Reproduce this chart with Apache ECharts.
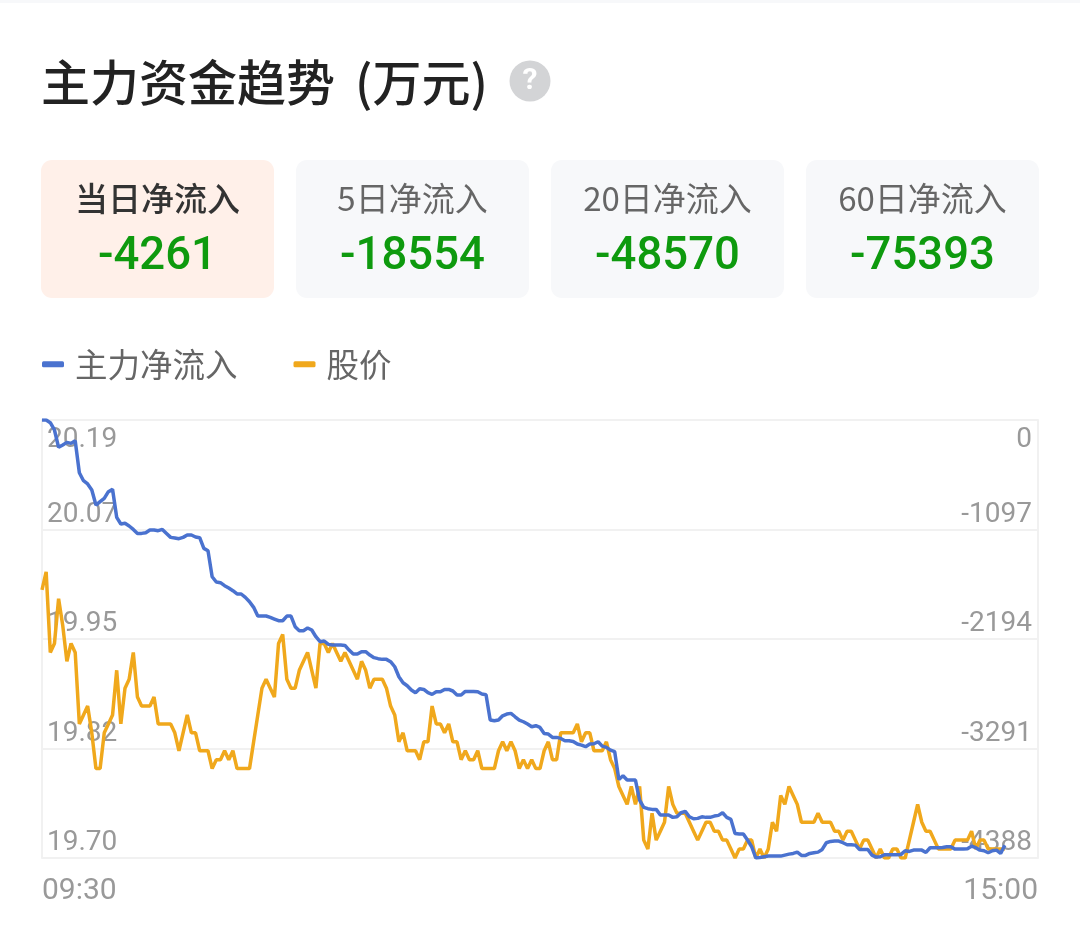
<!DOCTYPE html>
<html><head><meta charset="utf-8">
<style>html,body{margin:0;padding:0;background:#fff}#c{width:1080px;height:927px}</style>
<script src="https://cdn.jsdelivr.net/npm/echarts@6/dist/echarts.min.js"></script>
</head><body><div id="c"></div>
<script>
const titleMain = '主力资金趋势';
const titleUnit = '(万元)';
const cardLabels = ['当日净流入','5日净流入','20日净流入','60日净流入'];
const cardValues = ['-4261','-18554','-48570','-75393'];
const seriesNames = ['主力净流入','股价'];
const priceTicks = [19.70,19.8225,19.945,20.0675,20.19];
const priceTickLabels = ['19.70','19.82','19.95','20.07','20.19'];
const inflowTicks = [-4388,-3291,-2194,-1097,0];
const inflowTickLabels = ['-4388','-3291','-2194','-1097','0'];
const price = [
20.00,20.02,19.93,19.94,19.99,19.96,19.92,19.94,19.93,19.85,19.86,19.87,19.84,19.80,19.80,19.84,19.85,19.86,19.91,19.85,
19.89,19.90,19.93,19.88,19.87,19.87,19.87,19.88,19.85,19.85,19.85,19.85,19.84,19.82,19.84,19.86,19.84,19.84,19.82,19.82,
19.82,19.80,19.81,19.81,19.82,19.81,19.82,19.80,19.80,19.80,19.80,19.83,19.86,19.89,19.90,19.89,19.88,19.94,19.95,19.90,
19.89,19.89,19.91,19.92,19.93,19.91,19.89,19.94,19.94,19.93,19.94,19.93,19.92,19.93,19.92,19.91,19.90,19.92,19.91,19.89,
19.90,19.90,19.90,19.89,19.87,19.86,19.83,19.84,19.82,19.82,19.82,19.81,19.83,19.83,19.87,19.85,19.85,19.84,19.85,19.83,
19.83,19.81,19.82,19.81,19.81,19.82,19.80,19.80,19.80,19.80,19.82,19.83,19.82,19.83,19.82,19.80,19.81,19.80,19.81,19.80,
19.80,19.82,19.83,19.81,19.81,19.84,19.84,19.84,19.84,19.85,19.83,19.84,19.84,19.82,19.82,19.82,19.83,19.81,19.80,19.78,
19.77,19.76,19.78,19.76,19.78,19.72,19.71,19.75,19.72,19.73,19.74,19.78,19.76,19.75,19.75,19.75,19.74,19.73,19.72,19.73,
19.74,19.74,19.73,19.73,19.72,19.72,19.71,19.70,19.71,19.71,19.72,19.72,19.70,19.71,19.70,19.71,19.74,19.73,19.77,19.76,
19.78,19.77,19.76,19.74,19.74,19.74,19.74,19.75,19.74,19.74,19.74,19.73,19.73,19.72,19.73,19.73,19.72,19.71,19.72,19.72,
19.71,19.70,19.71,19.70,19.70,19.71,19.71,19.70,19.70,19.72,19.74,19.76,19.74,19.73,19.73,19.72,19.71,19.71,19.71,19.71,
19.72,19.72,19.72,19.72,19.73,19.71,19.72,19.72,19.71,19.71,19.71,19.71,19.71
];
const inflow = [
0,0,-27,-100,-274,-250,-224,-234,-207,-528,-608,-641,-701,-852,-818,-785,-718,-695,-975,-1042,
-1035,-1062,-1096,-1136,-1136,-1129,-1102,-1102,-1109,-1096,-1136,-1176,-1182,-1189,-1176,-1152,-1152,-1172,-1179,-1286,
-1309,-1570,-1623,-1630,-1660,-1683,-1710,-1743,-1743,-1777,-1820,-1877,-1964,-1964,-1964,-1977,-1994,-2011,-2011,-1964,
-1964,-2071,-2111,-2111,-2084,-2104,-2171,-2221,-2214,-2248,-2255,-2255,-2255,-2258,-2305,-2345,-2345,-2321,-2321,-2355,
-2381,-2391,-2398,-2398,-2421,-2472,-2572,-2632,-2662,-2705,-2732,-2692,-2699,-2732,-2749,-2722,-2722,-2699,-2699,-2715,
-2755,-2755,-2719,-2719,-2719,-2722,-2745,-2752,-3006,-3013,-3006,-2963,-2946,-2939,-2973,-3006,-3023,-3046,-3073,-3063,
-3080,-3140,-3146,-3180,-3180,-3190,-3213,-3213,-3220,-3246,-3257,-3273,-3246,-3243,-3223,-3267,-3280,-3307,-3323,-3601,
-3564,-3607,-3607,-3607,-3808,-3881,-3894,-3901,-3901,-3958,-3958,-3958,-3981,-3975,-3935,-3921,-3975,-3995,-3991,-3975,
-3981,-3981,-3968,-3961,-3935,-3981,-4001,-4142,-4148,-4148,-4208,-4275,-4388,-4382,-4375,-4369,-4369,-4369,-4369,-4359,
-4349,-4342,-4329,-4362,-4362,-4342,-4335,-4329,-4302,-4235,-4222,-4218,-4218,-4235,-4255,-4255,-4259,-4302,-4302,-4302,
-4359,-4379,-4375,-4355,-4355,-4355,-4355,-4352,-4315,-4322,-4309,-4309,-4309,-4332,-4285,-4285,-4285,-4282,-4275,-4275,
-4299,-4299,-4299,-4295,-4269,-4285,-4309,-4315,-4335,-4315,-4309,-4342,-4261
];
const timeAxis = [];
const pad = n => String(n).padStart(2,'0');
for (let m = 9*60+30; m <= 11*60+30; m++) timeAxis.push(pad(Math.floor(m/60))+':'+pad(m%60));
for (let m = 13*60+1; m <= 15*60; m++) timeAxis.push(pad(Math.floor(m/60))+':'+pad(m%60));

const CJK = '"Noto Sans CJK SC","Noto Sans",sans-serif';
const NUM = 'Roboto,"Noto Sans",sans-serif';
const GRID = '#f1f1f1';
const BLUE = '#4a72cf', ORANGE = '#f0a81c';
const cardX = [41,296,551,806];
const graphic = [
  {type:'rect',shape:{x:0,y:0,width:1080,height:3},style:{fill:'#f7f8fa'},silent:true},
  {type:'text',x:41,y:82,style:{text:titleMain,font:'500 49px '+CJK,fill:'#222',textVerticalAlign:'middle'}},
  {type:'text',x:355,y:82,style:{text:titleUnit,font:'500 49px '+CJK,fill:'#222',textVerticalAlign:'middle'}},
  {type:'circle',shape:{cx:530,cy:81,r:20.5},style:{fill:'#d3d4d6'}},
  {type:'text',x:530,y:81,style:{text:'?',font:'700 30px '+NUM,fill:'#fff',textAlign:'center',textVerticalAlign:'middle'}}
];
cardLabels.forEach((t,i)=>{
  const cx = cardX[i]+116.5;
  graphic.push({type:'rect',shape:{x:cardX[i],y:160,width:233,height:138,r:11},style:{fill:i===0?'#fff0e9':'#f7f8fa'}});
  graphic.push({type:'text',x:cx,y:198,style:{text:t,font:(i===0?'500':'400')+' 33px '+CJK,fill:i===0?'#333':'#666',textAlign:'center',textVerticalAlign:'middle'}});
  graphic.push({type:'text',x:cx,y:258,style:{text:cardValues[i],font:'500 45.5px '+NUM,fill:'#0e9a0e',textAlign:'center',textVerticalAlign:'middle'}});
});
const chart = echarts.init(document.getElementById('c'),null,{renderer:'canvas'});
const yLabelRich = {t:{fontSize:28,color:'#999',fontFamily:NUM,padding:[6,0,0,0]}};
const yLabelBase = {inside:true,fontSize:28,color:'#999',fontFamily:NUM,padding:[0,0,1,0],
  verticalAlign:'bottom',verticalAlignMinLabel:'bottom',verticalAlignMaxLabel:'top',rich:yLabelRich};
const yAxisBase = {
  type:'value',
  axisLine:{show:true,lineStyle:{color:GRID,width:2}},
  splitLine:{show:true,lineStyle:{color:GRID,width:2}}
};
chart.setOption({
  animation:false,
  backgroundColor:'#fff',
  graphic,
  legend:{
    show:true,left:42,top:348,padding:0,itemWidth:22,itemHeight:6,itemGap:56,icon:'roundRect',
    data:seriesNames,selectedMode:false,
    textStyle:{fontSize:32.5,color:'#666',fontFamily:CJK,padding:[0,0,0,6]}
  },
  grid:{left:42,right:42,top:420,bottom:69,containLabel:false},
  xAxis:{
    type:'category',data:timeAxis,boundaryGap:false,
    axisTick:{show:false},
    axisLine:{show:false},
    splitLine:{show:false},
    axisLabel:{
      show:true,margin:18,fontSize:30,color:'#999',fontFamily:NUM,
      interval:(i)=>i===0||i===timeAxis.length-1,
      alignMinLabel:'left',alignMaxLabel:'right'
    }
  },
  yAxis:[
    Object.assign({},yAxisBase,{
      position:'left',min:priceTicks[0],max:priceTicks[4],
      axisTick:{show:false,customValues:priceTicks},
      axisLabel:Object.assign({},yLabelBase,{customValues:priceTicks,margin:5,
        formatter:v=>{const k=priceTicks.indexOf(v);return k===4?'{t|'+priceTickLabels[k]+'}':priceTickLabels[k];}})
    }),
    Object.assign({},yAxisBase,{
      position:'right',min:inflowTicks[0],max:inflowTicks[4],
      axisTick:{show:false,customValues:inflowTicks},
      axisLabel:Object.assign({},yLabelBase,{customValues:inflowTicks,margin:6,
        formatter:v=>{const k=inflowTicks.indexOf(v);return k===4?'{t|'+inflowTickLabels[k]+'}':inflowTickLabels[k];}})
    })
  ],
  series:[
    {name:seriesNames[0],type:'line',yAxisIndex:1,data:inflow,showSymbol:false,symbol:'none',z:4,
      lineStyle:{color:BLUE,width:3.5},itemStyle:{color:BLUE}},
    {name:seriesNames[1],type:'line',yAxisIndex:0,data:price,showSymbol:false,symbol:'none',z:3,
      lineStyle:{color:ORANGE,width:3.5},itemStyle:{color:ORANGE}}
  ]
});
</script></body></html>
